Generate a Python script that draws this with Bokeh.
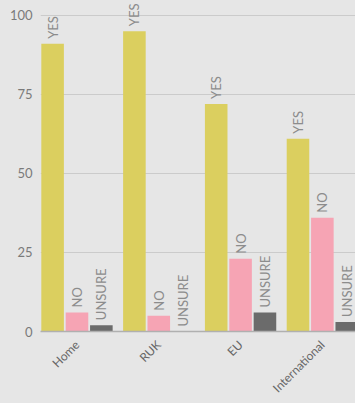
import math
from bokeh.plotting import figure
from bokeh.models import ColumnDataSource, Range1d, FixedTicker
from bokeh.core.properties import value
from bokeh.embed import file_html
from bokeh.resources import INLINE

groups = ["Home", "RUK", "EU", "International"]
answers = ["YES", "NO", "UNSURE"]
yes = [91, 95, 72, 61]
no = [6, 5, 23, 36]
unsure = [2, 0, 6, 3]
y_ticks = [0, 25, 50, 75, 100]

colors = ["#dbcf5f", "#f6a4b4", "#6b6b6b"]
offsets = [-0.298, 0.0, 0.298]
bar_width = 0.276
bg = "#e6e6e6"

p = figure(width=355, height=403,
           x_range=Range1d(-0.446, 3.405), y_range=Range1d(0, 104.7),
           output_backend="svg", toolbar_location=None,
           min_border_left=40, min_border_right=0, min_border_top=0,
           min_border_bottom=71,
           background_fill_color=bg, border_fill_color=bg,
           outline_line_color=None)

for ans, vals, col, off in zip(answers, [yes, no, unsure], colors, offsets):
    src = ColumnDataSource(dict(
        x=[i + off for i in range(len(groups))],
        top=vals,
        label=[ans] * len(groups),
    ))
    p.vbar(x="x", top="top", width=bar_width, source=src,
           fill_color=col, line_color=None)
    p.text(x="x", y="top", text="label", source=src, angle=math.pi / 2,
           text_align="left", text_baseline="middle", y_offset=-5,
           text_font=value("Lato"), text_font_size="13px",
           text_color="#8c8c8c")

p.xaxis.ticker = FixedTicker(ticks=list(range(len(groups))))
p.xaxis.major_label_overrides = {i: g for i, g in enumerate(groups)}
p.xaxis.major_label_orientation = math.pi / 4
p.xaxis.major_tick_in = 0
p.xaxis.major_tick_out = 0
p.xaxis.minor_tick_in = 0
p.xaxis.minor_tick_out = 0
p.xaxis.axis_line_color = "#b0b0b0"
p.xaxis.axis_line_width = 1.5
p.xaxis.major_label_standoff = 11
p.xaxis.major_label_text_font = "Lato"
p.xaxis.major_label_text_font_size = "12px"
p.xaxis.major_label_text_color = "#666666"

p.yaxis.ticker = FixedTicker(ticks=y_ticks)
p.yaxis.axis_line_color = None
p.yaxis.major_tick_in = 0
p.yaxis.major_tick_out = 0
p.yaxis.minor_tick_in = 0
p.yaxis.minor_tick_out = 0
p.yaxis.major_label_standoff = 8
p.yaxis.major_label_text_font = "Lato"
p.yaxis.major_label_text_font_size = "13px"
p.yaxis.major_label_text_color = "#7a7a7a"

p.xgrid.visible = False
p.ygrid.ticker = FixedTicker(ticks=y_ticks)
p.ygrid.grid_line_color = "#cbcbcb"
p.ygrid.grid_line_width = 1

html = file_html(p, INLINE)
html = html.replace("<head>", "<head><style>body{background:#e6e6e6;}</style>", 1)
open("out.html", "w").write(html)
